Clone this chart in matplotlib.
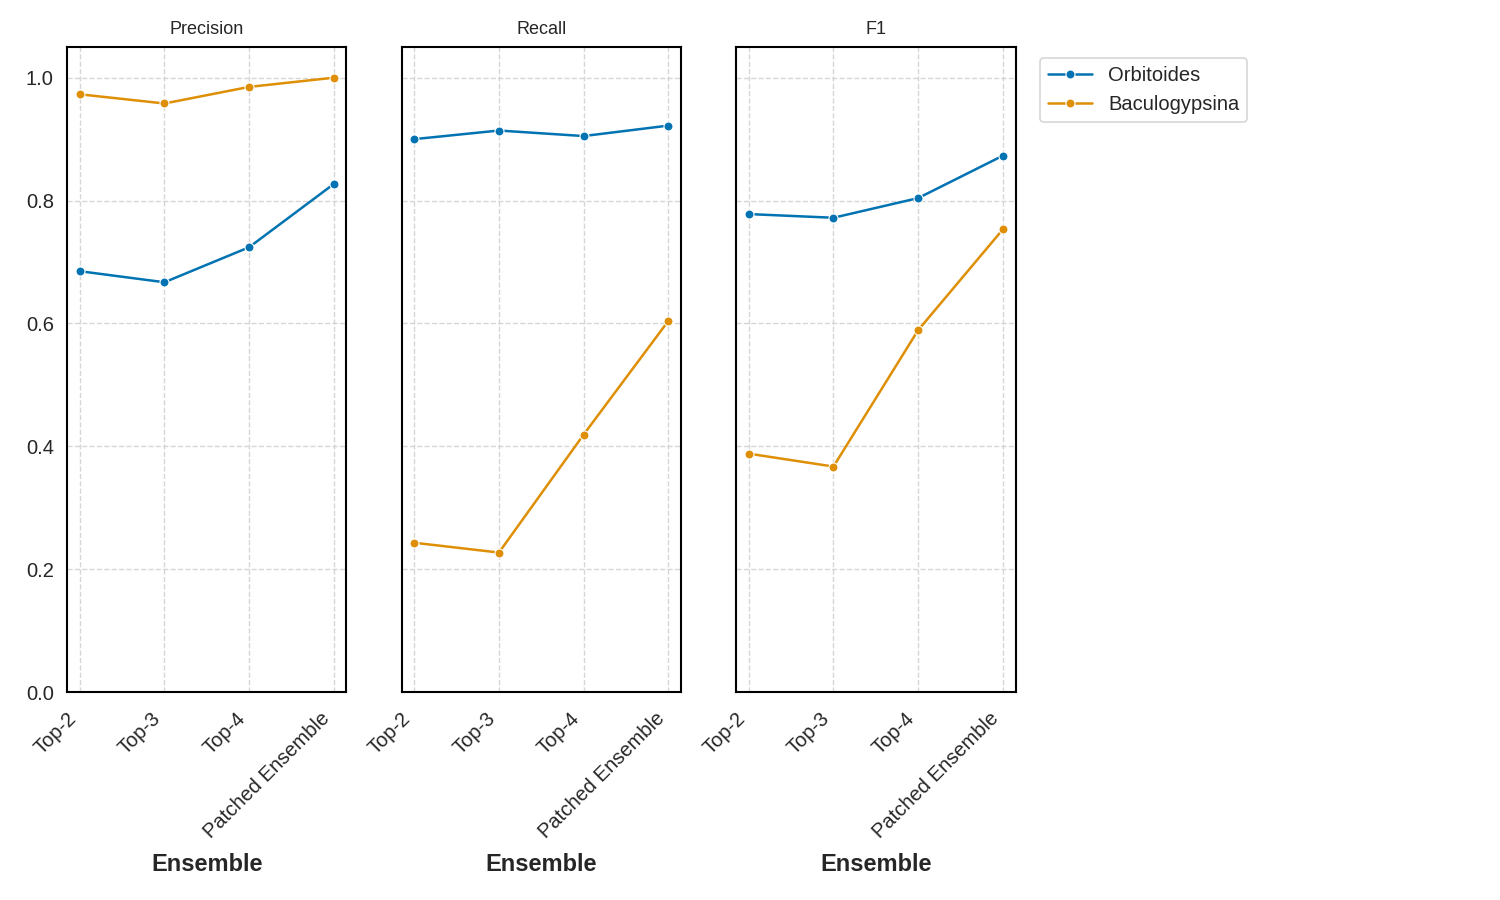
import matplotlib
matplotlib.use("Agg")
import matplotlib.pyplot as plt
import seaborn as sns

sns.set_theme(style="white")
plt.rcParams['font.family'] = ['Liberation Sans', 'DejaVu Sans']

ensembles = ["Top-2", "Top-3", "Top-4", "Patched Ensemble"]
metrics = ["Precision", "Recall", "F1"]
classes = ["Orbitoides", "Baculogypsina"]

orbitoides_precision = [0.685, 0.667, 0.724, 0.827]
baculogypsina_precision = [0.973, 0.958, 0.985, 1.000]
orbitoides_recall = [0.900, 0.914, 0.905, 0.922]
baculogypsina_recall = [0.243, 0.227, 0.419, 0.604]
orbitoides_f1 = [0.778, 0.772, 0.804, 0.873]
baculogypsina_f1 = [0.388, 0.367, 0.589, 0.753]

data = {
    "Precision": [orbitoides_precision, baculogypsina_precision],
    "Recall": [orbitoides_recall, baculogypsina_recall],
    "F1": [orbitoides_f1, baculogypsina_f1],
}
colors = ["#0173b2", "#de8f05"]

fig, axes = plt.subplots(1, 3, figsize=(15, 9), dpi=100, sharey=True)
fig.subplots_adjust(left=0.0447, right=0.677, top=0.9478, bottom=0.2311, wspace=0.197)

x = list(range(len(ensembles)))
for ax, m in zip(axes, metrics):
    for vals, c, name in zip(data[m], colors, classes):
        ax.plot(x, vals, color=c, marker="o", markersize=6.5, markeredgecolor="white",
                markeredgewidth=0.8, linewidth=1.8, label=name)
    ax.set_title(m, fontsize=13, color="#262626", pad=9)
    ax.set_xticks(x)
    ax.set_xticklabels(ensembles, rotation=45, ha="right", fontsize=14.5)
    ax.set_xlabel("Ensemble", fontsize=17, fontweight="bold", color="#262626", labelpad=8)
    ax.grid(True, linestyle="--", color="#cccccc", linewidth=1, alpha=0.8)
    ax.set_ylim(0, 1.05)
    ax.set_yticks([0, 0.2, 0.4, 0.6, 0.8, 1.0])
    ax.tick_params(axis="y", labelsize=14.5)
    ax.tick_params(axis="x", pad=6)
    for s in ax.spines.values():
        s.set_edgecolor("black")
        s.set_linewidth(1.5)

leg = axes[2].legend(loc="upper left", bbox_to_anchor=(1.05, 0.999), fontsize=14.5, frameon=True,
                     handlelength=2.2)
leg.get_frame().set_edgecolor("#cccccc")
leg.get_frame().set_linewidth(1.2)

fig.savefig("out.png", dpi=100)
